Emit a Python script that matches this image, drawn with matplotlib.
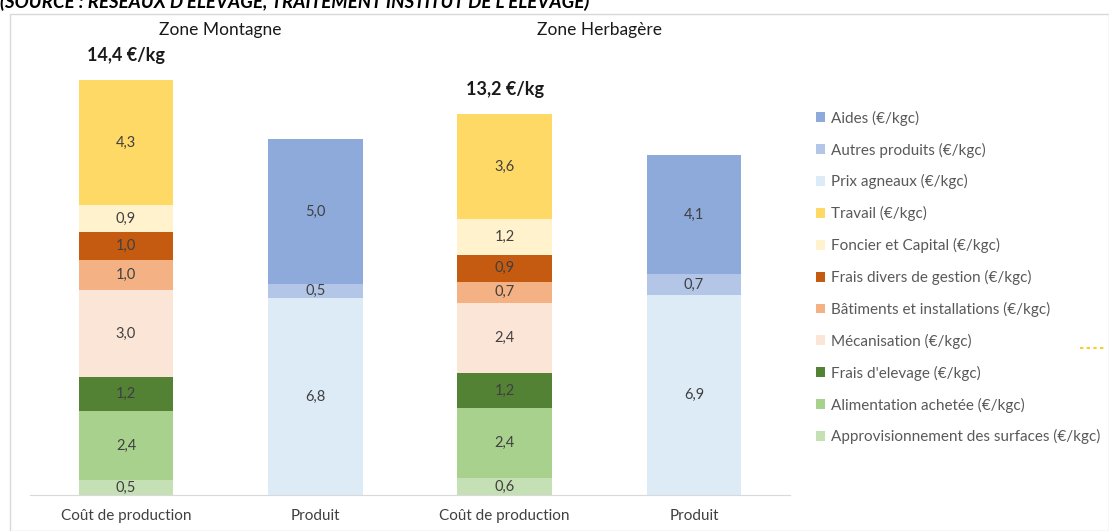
import matplotlib
matplotlib.use("Agg")
import matplotlib.pyplot as plt
from matplotlib.patches import Patch, Rectangle
from matplotlib.lines import Line2D

plt.rcParams['font.family'] = ['Lato', 'DejaVu Sans']

categories = ["Coût de production", "Produit", "Coût de production", "Produit"]
zones = ["Zone Montagne", "Zone Herbagère"]
totals = ["14,4 €/kg", "13,2 €/kg"]

# cost components (bottom to top) for Montagne cost / Herbagère cost
appro = [0.52, 0, 0.59, 0]
alimentation = [2.39, 0, 2.42, 0]
frais_elevage = [1.18, 0, 1.21, 0]
mecanisation = [3.0, 0, 2.44, 0]
batiments = [1.04, 0, 0.73, 0]
frais_divers = [0.97, 0, 0.93, 0]
foncier = [0.93, 0, 1.24, 0]
travail = [4.34, 0, 3.63, 0]
# product components
prix_agneaux = [0, 6.82, 0, 6.92]
autres_produits = [0, 0.48, 0, 0.73]
aides = [0, 5.02, 0, 4.12]

series = [
    ("Approvisionnement des surfaces (€/kgc)", appro, "#C5E0B4"),
    ("Alimentation achetée (€/kgc)", alimentation, "#A9D18E"),
    ("Frais d'elevage (€/kgc)", frais_elevage, "#548235"),
    ("Mécanisation (€/kgc)", mecanisation, "#FBE5D6"),
    ("Bâtiments et installations (€/kgc)", batiments, "#F4B183"),
    ("Frais divers de gestion (€/kgc)", frais_divers, "#C55A11"),
    ("Foncier et Capital (€/kgc)", foncier, "#FFF2CC"),
    ("Travail (€/kgc)", travail, "#FFD966"),
    ("Prix agneaux (€/kgc)", prix_agneaux, "#DDEBF7"),
    ("Autres produits (€/kgc)", autres_produits, "#B4C6E7"),
    ("Aides (€/kgc)", aides, "#8EAADB"),
]

W, H = 1109, 531
fig = plt.figure(figsize=(W / 100, H / 100), dpi=100)
ax = fig.add_axes([30 / W, 36 / H, 760 / W, 462 / H])

x = list(range(len(categories)))
bottom = [0.0] * len(x)
for name, vals, col in series:
    ax.bar(x, vals, width=0.5, bottom=bottom, color=col, label=name)
    for xi, v, b in zip(x, vals, bottom):
        if v > 0:
            ax.text(xi, b + v / 2, f"{v:.1f}".replace('.', ','), ha='center', va='center',
                    fontsize=10.5, color='#404040')
    bottom = [b + v for b, v in zip(bottom, vals)]

# totals above cost bars
for i, t in zip([0, 2], totals):
    ax.text(x[i], bottom[i] + 0.55, t, ha='center', va='bottom', fontsize=13,
            fontweight='bold', color='#1a1a1a')

# zone titles
for k, z in enumerate(zones):
    ax.text((x[2 * k] + x[2 * k + 1]) / 2, 16.1, z, ha='center', va='center',
            fontsize=12.5, color='#1a1a1a')

ax.set_xlim(-0.507, 3.507)
ax.set_ylim(0, 16)
ax.set_xticks(x)
ax.set_xticklabels(categories, fontsize=11, color='#404040')
ax.tick_params(axis='x', length=0, pad=10)
ax.set_yticks([])
for s in ['top', 'right', 'left']:
    ax.spines[s].set_visible(False)
ax.spines['bottom'].set_color('#D9D9D9')
ax.patch.set_alpha(0)

# legend (top to bottom order as reference)
handles = [Patch(facecolor=col, edgecolor='none', label=name) for name, _, col in reversed(series)]
leg = fig.legend(handles=handles, loc='upper left', bbox_to_anchor=(808 / W, 1 - 103 / H),
                 frameon=False, fontsize=11, labelspacing=1.1, handlelength=0.62,
                 handleheight=0.62, handletextpad=0.4, borderpad=0)
for t in leg.get_texts():
    t.set_color('#595959')

# chart border
fig.patches.append(Rectangle((10 / W, 0), 1 - 10 / W, 1 - 14 / H, transform=fig.transFigure,
                             fill=False, edgecolor='#D9D9D9', linewidth=1))
# stray dashes at right
fig.lines.append(Line2D([1080 / W, 1106 / W], [1 - 348 / H] * 2, transform=fig.transFigure,
                        color='#FFC000', linestyle=(0, (2, 2)), linewidth=1.2))

# cropped source line at top
fig.text(0, 1 - 8 / H, "(SOURCE : RÉSEAUX D'ÉLEVAGE, TRAITEMENT INSTITUT DE L'ÉLEVAGE)",
         ha='left', va='baseline', fontsize=13.5, fontweight='bold', fontstyle='italic',
         color='#000000')

fig.savefig("out.png", dpi=100)
